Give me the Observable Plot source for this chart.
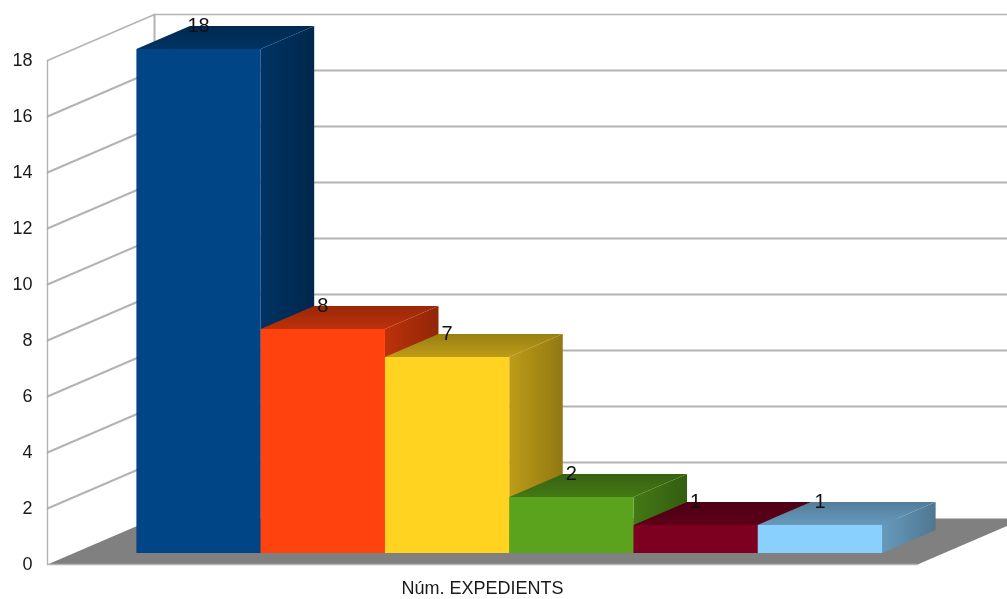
<!DOCTYPE html>
<html>
<head>
<meta charset="utf-8">
<style>
html,body{margin:0;padding:0;background:#fff;overflow:hidden}
svg{display:block;filter:blur(0.35px)}
</style>
<script src="https://cdn.jsdelivr.net/npm/d3@7"></script>
<script src="https://cdn.jsdelivr.net/npm/@observablehq/plot@0.6"></script>
</head>
<body>
<script>
const categoryTitle = "Núm. EXPEDIENTS";
const values = [18, 8, 7, 2, 1, 1];
const colors = ["#004586", "#ff420e", "#ffd320", "#5ba31c", "#7e0021", "#8ad0ff"];
const yTicks = [0, 2, 4, 6, 8, 10, 12, 14, 16, 18];

const font = "'Liberation Sans', Arial, sans-serif";
const gridColor = "#b3b3b3";
const slots = 7;
const yMax = 18;
const skewX = 0.861;
const skewY = 1.643;
const depthFront = 0.25;
const depthBack = 0.75;

// oblique projection: position along x, value, depth into the chart
const P = (u, v, d) => ({x: u + d * skewX, y: v + d * skewY});
const shade = (c, k) => { const r = d3.rgb(c); return d3.rgb(r.r * k, r.g * k, r.b * k).formatHex(); };
const face = (pts, fill) => Plot.line(pts, {x: "x", y: "y", fill, stroke: "none"});
const seg = (a, b, w) => Plot.line([a, b], {x: "x", y: "y", stroke: gridColor, strokeWidth: w});

const defs = (index, scales, vals, dims, context) => {
  const g = d3.select(context.document.createElementNS("http://www.w3.org/2000/svg", "defs"));
  colors.forEach((c, i) => {
    const side = g.append("linearGradient").attr("id", `side${i}`).attr("x1", 0).attr("x2", 1).attr("y1", 0).attr("y2", 0);
    side.append("stop").attr("offset", 0).attr("stop-color", shade(c, 0.74));
    side.append("stop").attr("offset", 1).attr("stop-color", shade(c, 0.57));
    const top = g.append("linearGradient").attr("id", `top${i}`).attr("x1", 0).attr("x2", 0).attr("y1", 0).attr("y2", 1);
    top.append("stop").attr("offset", 0).attr("stop-color", shade(c, 0.6));
    top.append("stop").attr("offset", 1).attr("stop-color", shade(c, 0.74));
  });
  return g.node();
};

const walls = [
  seg(P(0, 0, 0), P(0, yMax, 0), 1.4),
  seg(P(0, 0, 1), P(0, yMax, 1), 2),
  ...yTicks.filter(v => v > 0).flatMap(v => [
    seg(P(0, v, 0), P(0, v, 1), v === yMax ? 1.5 : 2),
    seg(P(0, v, 1), P(slots, v, 1), v === yMax ? 1.5 : 2)
  ])
];

const floor = [
  face([P(0, 0, 0), P(slots, 0, 0), P(slots, 0, 1), P(0, 0, 1)], "#808080"),
  seg(P(0, 0, 0), P(slots, 0, 0), 1.4)
];

const bars = values.flatMap((v, i) => {
  const u0 = i + 0.5, u1 = i + 1.5;
  return [
    face([P(u1, 0, depthFront), P(u1, v, depthFront), P(u1, v, depthBack), P(u1, 0, depthBack)], `url(#side${i})`),
    face([P(u0, v, depthFront), P(u1, v, depthFront), P(u1, v, depthBack), P(u0, v, depthBack)], `url(#top${i})`),
    face([P(u0, 0, depthFront), P(u1, 0, depthFront), P(u1, v, depthFront), P(u0, v, depthFront)], colors[i])
  ];
});

const labels = values.map((v, i) => ({
  x: P(i + 1, v, depthFront).x,
  y: P(i + 1, v, depthBack).y,
  label: String(v)
}));

const chart = Plot.plot({
  width: 1007,
  height: 599,
  marginLeft: 47,
  marginRight: 90,
  marginTop: 60,
  marginBottom: 35,
  style: {background: "#fff", overflow: "hidden", fontFamily: font},
  x: {domain: [0, slots]},
  y: {domain: [0, yMax]},
  marks: [
    defs,
    ...walls,
    ...floor,
    ...bars,
    Plot.axisY({ticks: yTicks, tickSize: 0, tickPadding: 15, fontSize: 18, label: null, color: "#1a1a1a"}),
    Plot.axisX({ticks: [slots / 2], tickSize: 0, tickPadding: 17, fontSize: 18, label: null, tickFormat: () => categoryTitle, color: "#1a1a1a"}),
    Plot.text(labels, {x: "x", y: "y", text: "label", fontSize: 20, fill: "#111", dy: 0})
  ]
});
document.body.appendChild(chart);
</script>
</body>
</html>
